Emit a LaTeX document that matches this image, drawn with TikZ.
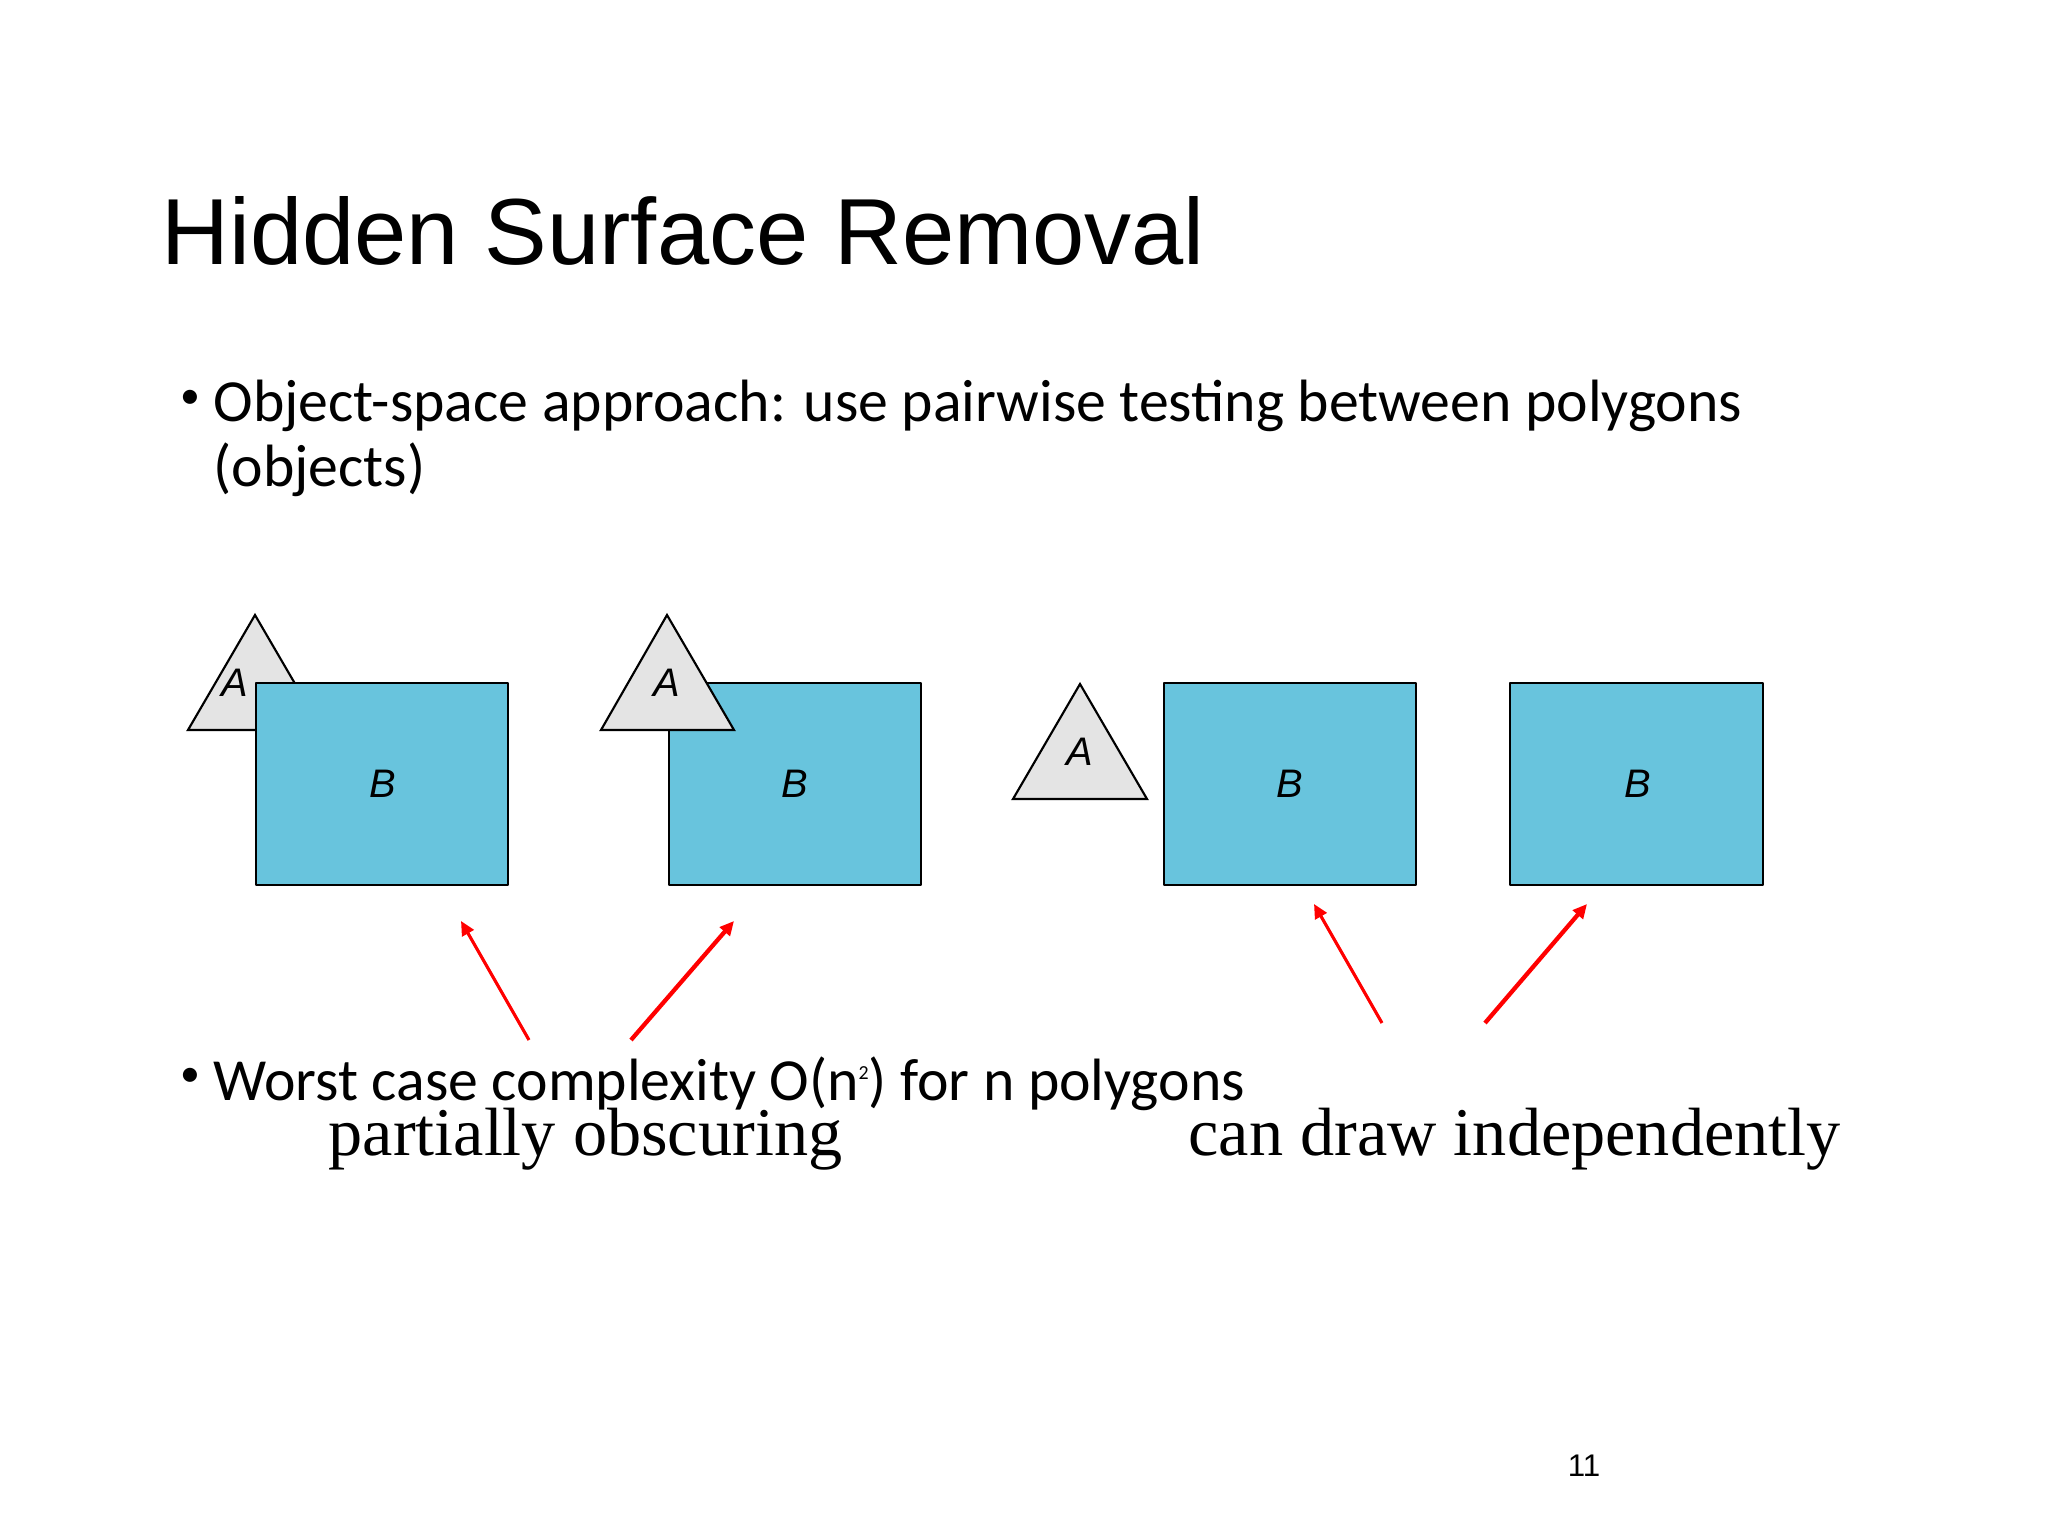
\documentclass[tikz,border=0pt]{standalone}
\usepackage{fontspec}
\usetikzlibrary{arrows.meta}
\newfontfamily\arialfont{Liberation Sans}
\newfontfamily\calibrifont{Carlito}
\newfontfamily\timesfont{Liberation Serif}
\definecolor{boxblue}{RGB}{104,196,221}
\definecolor{trigrey}{RGB}{228,228,228}
\newcommand{\smallbullet}{\raisebox{0.22em}{\fontsize{14}{14}\selectfont\textbullet}}
\tikzset{
  polyB/.style={draw=black, line width=0.75pt, fill=boxblue},
  polyA/.style={draw=black, line width=0.75pt, fill=trigrey, line join=miter},
  shapelbl/.style={inner sep=0pt, font=\arialfont\itshape\fontsize{14}{14}\selectfont},
  bullettxt/.style={anchor=base west, inner sep=0pt, font=\calibrifont\fontsize{21}{25}\selectfont},
  caption/.style={anchor=base west, inner sep=0pt, font=\timesfont\fontsize{24}{28}\selectfont},
  redarrow/.style={draw=red, -{Triangle[length=5pt,width=4.6pt]}, line width=1.1pt}
}
\begin{document}
\begin{tikzpicture}[x=0.35156pt, y=-0.35156pt, line join=round]
\useasboundingbox[fill=white] (0,0) rectangle (2048,1536);
% title and bullets
\node[anchor=base west, inner sep=0pt, font=\arialfont\fontsize{33}{40}\selectfont] (title) at (161,265) {Hidden Surface Removal};
\node[bullettxt] (dot1) at (180,422) {\smallbullet};
\node[bullettxt] (obj1) at (213,422) {Object-space approach: use pairwise testing between polygons};
\node[bullettxt] (obj2) at (213,487) {(objects)};
\node[bullettxt] (dot2) at (180,1100) {\smallbullet};
\node[bullettxt] (worst) at (213,1100) {Worst case complexity O(n\raisebox{0.34em}{\fontsize{7}{7}\selectfont 2}) for n polygons};
% first pair: A partly behind B
\filldraw[polyA] (188,730) -- (255,615) -- (322,730) -- cycle;
\node[shapelbl] (lblA1) at (235,683) {A};
\filldraw[polyB] (256,683) rectangle (508,885);
\node[shapelbl] (lblB1) at (383,784) {B};
% second pair: A in front of B
\filldraw[polyB] (669,683) rectangle (921,885);
\node[shapelbl] (lblB2) at (795,784) {B};
\filldraw[polyA] (601,730) -- (667,615) -- (734,730) -- cycle;
\node[shapelbl] (lblA2) at (667,683) {A};
% separate A and B
\filldraw[polyA] (1013,799) -- (1080,684) -- (1147,799) -- cycle;
\node[shapelbl] (lblA3) at (1080,752) {A};
\filldraw[polyB] (1164,683) rectangle (1416,885);
\node[shapelbl] (lblB3) at (1290,784) {B};
\filldraw[polyB] (1510,683) rectangle (1763,885);
\node[shapelbl] (lblB4) at (1638,784) {B};
% captions
\node[caption] (partial) at (328,1155) {partially obscuring};
\node[caption] (indep) at (1188,1155) {can draw independently};
% arrows
\coordinate (t1) at (529,1040);
\coordinate (h1) at (461,921);
\coordinate (t2) at (631,1040);
\coordinate (h2) at (734,921);
\coordinate (t3) at (1382,1023);
\coordinate (h3) at (1314,904);
\coordinate (t4) at (1485,1023);
\coordinate (h4) at (1587,904);
\draw[redarrow] (t1) -- (h1);
\draw[redarrow, line width=1.5pt] (t2) -- (h2);
\draw[redarrow] (t3) -- (h3);
\draw[redarrow, line width=1.5pt] (t4) -- (h4);
% page number
\node[anchor=base, inner sep=0pt, font=\arialfont\fontsize{11}{13}\selectfont] (pgno) at (1584,1476) {11};
\end{tikzpicture}
\end{document}
